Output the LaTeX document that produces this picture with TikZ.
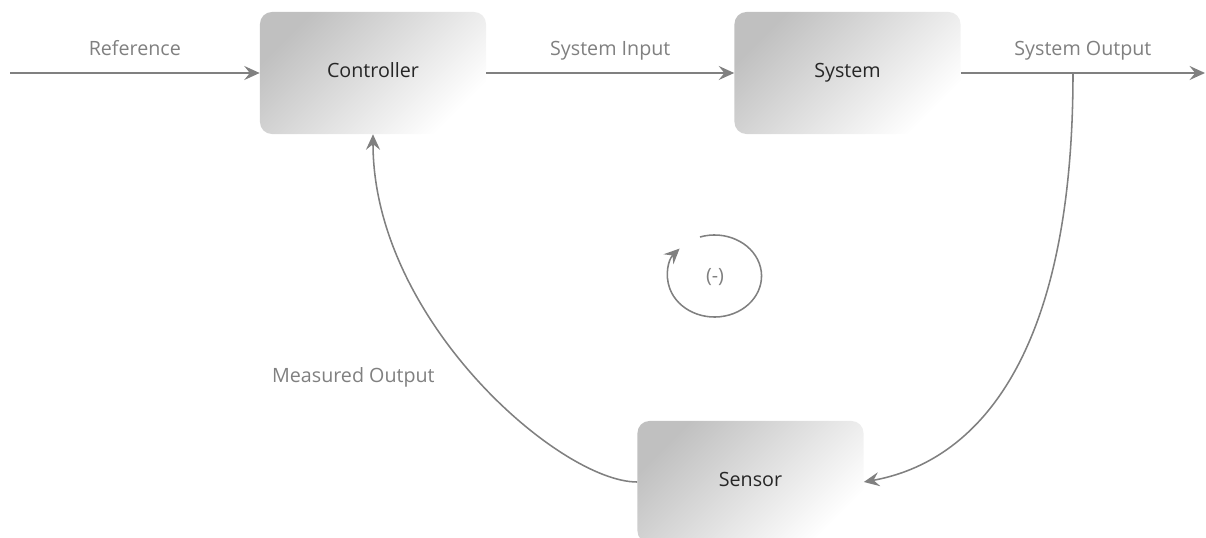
\documentclass[tikz,border=0pt]{standalone}
\usepackage{fontspec}
\setmainfont{Open Sans}
\usetikzlibrary{arrows.meta}
\definecolor{linegray}{HTML}{808080}
\definecolor{boxgray}{HTML}{C0C0C0}
\tikzset{
    block/.style={rectangle, rounded corners=0.3cm, minimum width=5.65cm, minimum height=3.05cm,
        top color=boxgray, bottom color=white, shading angle=45, text=black!85,
        font=\fontsize{14}{16}\selectfont, text height=1.5ex, text depth=0.25ex},
    signal/.style={draw=linegray, line width=1.1pt, -{Stealth[length=11pt, width=10pt, inset=4pt]}},
    lbl/.style={text=linegray, font=\fontsize{14}{16}\selectfont, text height=1.5ex, text depth=0.25ex}
}
\begin{document}
\begin{tikzpicture}[x=0.025cm, y=-0.025cm]
    \clip (0,0) rectangle (1206,538);
    % blocks
    \node[block] (ctrl) at (373,73) {Controller};
    \node[block] (sys) at (847.5,73) {System};
    \node[block] (sens) at (750.5,482) {Sensor};
    % free ends
    \coordinate (ref) at (10,73);
    \coordinate (out) at (1205,73);
    \coordinate (tap) at (1073,73);
    % forward path
    \draw[signal] (ref) -- (ctrl.west) node[lbl, midway, above=7pt]{Reference};
    \draw[signal] (ctrl.east) -- (sys.west) node[lbl, midway, above=7pt]{System Input};
    \draw[signal] (sys.east) -- (out) node[lbl, midway, above=7pt]{System Output};
    % feedback path
    \draw[signal] (tap) .. controls (1073,360) and (975,462) .. (sens.east);
    \draw[signal] (sens.west) .. controls (560,482) and (373,320) .. (ctrl.south)
        node[lbl, pos=0.5, left=0.9cm]{Measured Output};
    % sign of the loop
    \node[lbl] (minus) at (715,278) {(-)};
    \coordinate (loopstart) at (700,237);
    \draw[signal] (loopstart) arc[start angle=108, end angle=-222, x radius=1.175cm, y radius=1.025cm];
\end{tikzpicture}
\end{document}
